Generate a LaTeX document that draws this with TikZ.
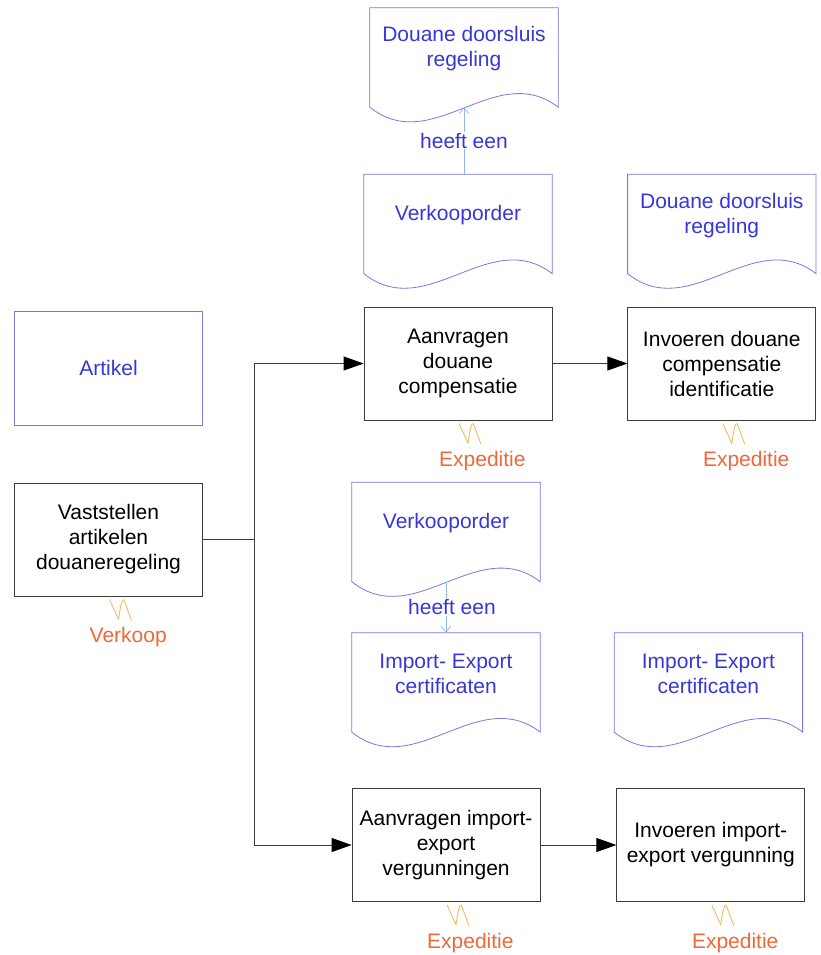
\documentclass[tikz,border=0pt]{standalone}
\usepackage{fontspec}
\setmainfont{Liberation Sans}
\usetikzlibrary{positioning,calc,arrows.meta}

\definecolor{procline}{RGB}{60,60,60}
\definecolor{docblue}{RGB}{55,55,215}
\definecolor{docedge}{RGB}{130,115,225}
\definecolor{relline}{RGB}{140,185,230}
\definecolor{owntext}{RGB}{238,105,55}
\definecolor{ownmark}{RGB}{245,185,95}

\newcommand{\diafont}{\fontsize{21}{25}\selectfont}

% bottom edge of a document node is a wave
\newcommand{\docrand}[1]{%
  \draw[docline] (#1.north west) -- (#1.north east) -- ($(#1.south east)+(0,17)$)
    .. controls +(-62.7,-48) and +(62.7,50) .. ($(#1.south west)+(0,17)$) -- cycle;
  \coordinate (#1-golf) at ($(#1.south)+(0,17)$);
}

% owner mark and department under a process box
\newcommand{\eigenaar}[2]{%
  \draw[ownline] ($(#1.south)+(1,3)$) -- ++(9,20) .. controls ++(2,-14) and ++(-2,-6) .. ++(6,-18) -- ++(7,19);
  \node[owner] (#1-eig) at ($(#1.south)+(-19,41)$) {#2};
}

\tikzset{
  proc/.style={rectangle,draw=procline,line width=0.8pt,minimum width=188pt,
    minimum height=113pt,align=center,font=\diafont},
  entity/.style={rectangle,draw=docedge,line width=0.8pt,minimum width=188pt,
    minimum height=114pt,align=center,text=docblue,font=\diafont},
  docu/.style={rectangle,minimum width=188pt,minimum height=82pt,align=center,
    text=docblue,font=\diafont},
  docline/.style={draw=docedge,line width=0.8pt},
  owner/.style={anchor=west,text=owntext,font=\diafont,inner sep=0pt},
  ownline/.style={ownmark,line width=0.9pt,line join=round},
  flow/.style={draw=procline,line width=0.8pt},
  flowarrow/.style={flow,-{Triangle[length=20pt,width=14pt,color=black]}},
  rel/.style={draw=relline,line width=0.7pt,-{Straight Barb[length=6pt,width=10pt]}},
  rellabel/.style={fill=white,text=docblue,font=\diafont,inner sep=1pt}
}

\begin{document}
\begin{tikzpicture}[x=1pt,y=-1pt]
  \useasboundingbox (0,0) rectangle (820,955);

  % processes
  \node[proc] (vast) at (108.5,539.5) {Vaststellen\\artikelen\\douaneregeling};
  \node[entity] (artikel) [above=57pt of vast] {Artikel};
  \node[proc] (aanvrDC) at (458,363.5) {Aanvragen\\douane\\compensatie};
  \node[proc] (invDC) [right=75pt of aanvrDC] {Invoeren douane\\compensatie\\identificatie};
  \node[proc] (aanvrIE) at (446,845) {Aanvragen import-\\export\\vergunningen};
  \node[proc] (invIE) [right=76pt of aanvrIE] {Invoeren import-\\export vergunning};

  % documents
  \node[docu] (vo1) [above=50pt of aanvrDC] {Verkooporder};
  \node[docu] (dd1) [above=84pt of vo1,xshift=6pt] {Douane doorsluis\\regeling};
  \node[docu] (dd2) [above=50pt of invDC] {Douane doorsluis\\regeling};
  \node[docu] (ie1) [above=73pt of aanvrIE] {Import- Export\\certificaten};
  \node[docu] (vo2) [above=68pt of ie1] {Verkooporder};
  \node[docu] (ie2) [right=74pt of ie1] {Import- Export\\certificaten};
  \foreach \d in {vo1,dd1,dd2,ie1,vo2,ie2} {\docrand{\d}}

  % owners
  \eigenaar{vast}{Verkoop}
  \eigenaar{aanvrDC}{Expeditie}
  \eigenaar{invDC}{Expeditie}
  \eigenaar{aanvrIE}{Expeditie}
  \eigenaar{invIE}{Expeditie}

  % control flow
  \coordinate (split) at ($(vast.east)+(51,0)$);
  \draw[flow] (vast.east) -- (split);
  \draw[flowarrow] (split) |- (aanvrDC.west);
  \draw[flowarrow] (split) |- (aanvrIE.west);
  \draw[flowarrow] (aanvrDC) -- (invDC);
  \draw[flowarrow] (aanvrIE) -- (invIE);

  % relations between documents
  \draw[rel] (dd1-golf |- vo1.north) -- node[rellabel] (rel1) {heeft een} (dd1-golf);
  \draw[rel] (vo2-golf) -- node[rellabel,xshift=6pt] (rel2) {heeft een} (ie1.north);
\end{tikzpicture}
\end{document}
